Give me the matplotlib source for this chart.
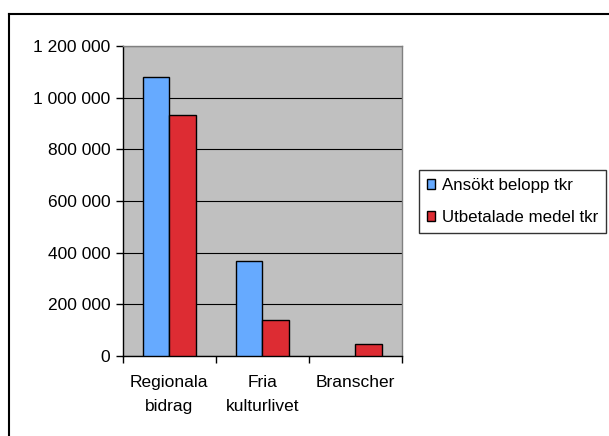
import numpy as np
import matplotlib.pyplot as plt
from matplotlib.lines import Line2D
from matplotlib.patches import Patch

plt.rcParams['font.family'] = ['Liberation Sans', 'DejaVu Sans']

kategorier = ['Regionala\nbidrag', 'Fria\nkulturlivet', 'Branscher']
ansokt = [1080000, 366000, 0]
utbetalt = [932000, 141000, 45000]
serier = ['Ansökt belopp tkr', 'Utbetalade medel tkr']
yticks = [0, 200000, 400000, 600000, 800000, 1000000, 1200000]

blue = '#66AAFF'
red = '#DD2C33'
fs = 12.5

W, H = 609, 436
fig = plt.figure(figsize=(W / 100, H / 100), dpi=100)
ax = fig.add_axes([122.7 / W, 1 - 356 / H, 279 / W, 310 / H])
ax.set_facecolor('#C0C0C0')

x = np.arange(len(kategorier))
w = 0.287
ax.bar(x - w / 2, ansokt, w, color=blue, edgecolor='black',
       linewidth=[1 if v > 0 else 0 for v in ansokt], zorder=3)
ax.bar(x + w / 2, utbetalt, w, color=red, edgecolor='black',
       linewidth=[1 if v > 0 else 0 for v in utbetalt], zorder=3)

ax.set_xlim(-0.5, len(kategorier) - 0.5)
ax.set_ylim(0, 1200000)
ax.set_yticks(yticks)
ax.set_yticklabels(['{:,}'.format(v).replace(',', ' ') for v in yticks], fontsize=fs)
ax.yaxis.grid(True, color='black', linewidth=0.8, zorder=0)
ax.set_axisbelow(True)

ax.set_xticks(x)
ax.set_xticklabels(kategorier, fontsize=fs, linespacing=1.7)
ax.set_xticks(np.arange(len(kategorier) + 1) - 0.5, minor=True)
ax.tick_params(axis='x', which='major', length=0, pad=14)
ax.tick_params(axis='x', which='minor', length=5, width=1, direction='out')
ax.tick_params(axis='y', length=5, width=1, direction='out', pad=4)

for s in ['top', 'right']:
    ax.spines[s].set_color('#808080')
    ax.spines[s].set_linewidth(1)
for s in ['left', 'bottom']:
    ax.spines[s].set_color('black')
    ax.spines[s].set_linewidth(1)

handles = [Patch(facecolor=blue, edgecolor='black'), Patch(facecolor=red, edgecolor='black')]
leg = fig.legend(handles, serier, loc='upper left', bbox_to_anchor=(419 / W, 1 - 170 / H),
                 fontsize=12.2, frameon=True, fancybox=False, edgecolor='black',
                 handlelength=0.52, handleheight=0.52, handletextpad=0.4,
                 labelspacing=1.05, borderpad=0.45, borderaxespad=0)
leg.get_frame().set_linewidth(1)

# yttre ram (höger och nederkant utanför bilden)
fig.add_artist(Line2D([9 / W, 9 / W], [0, 1 - 14 / H], color='black', linewidth=1.5))
fig.add_artist(Line2D([9 / W, 1], [1 - 14 / H, 1 - 14 / H], color='black', linewidth=1.5))

fig.savefig('out.png', dpi=100)
